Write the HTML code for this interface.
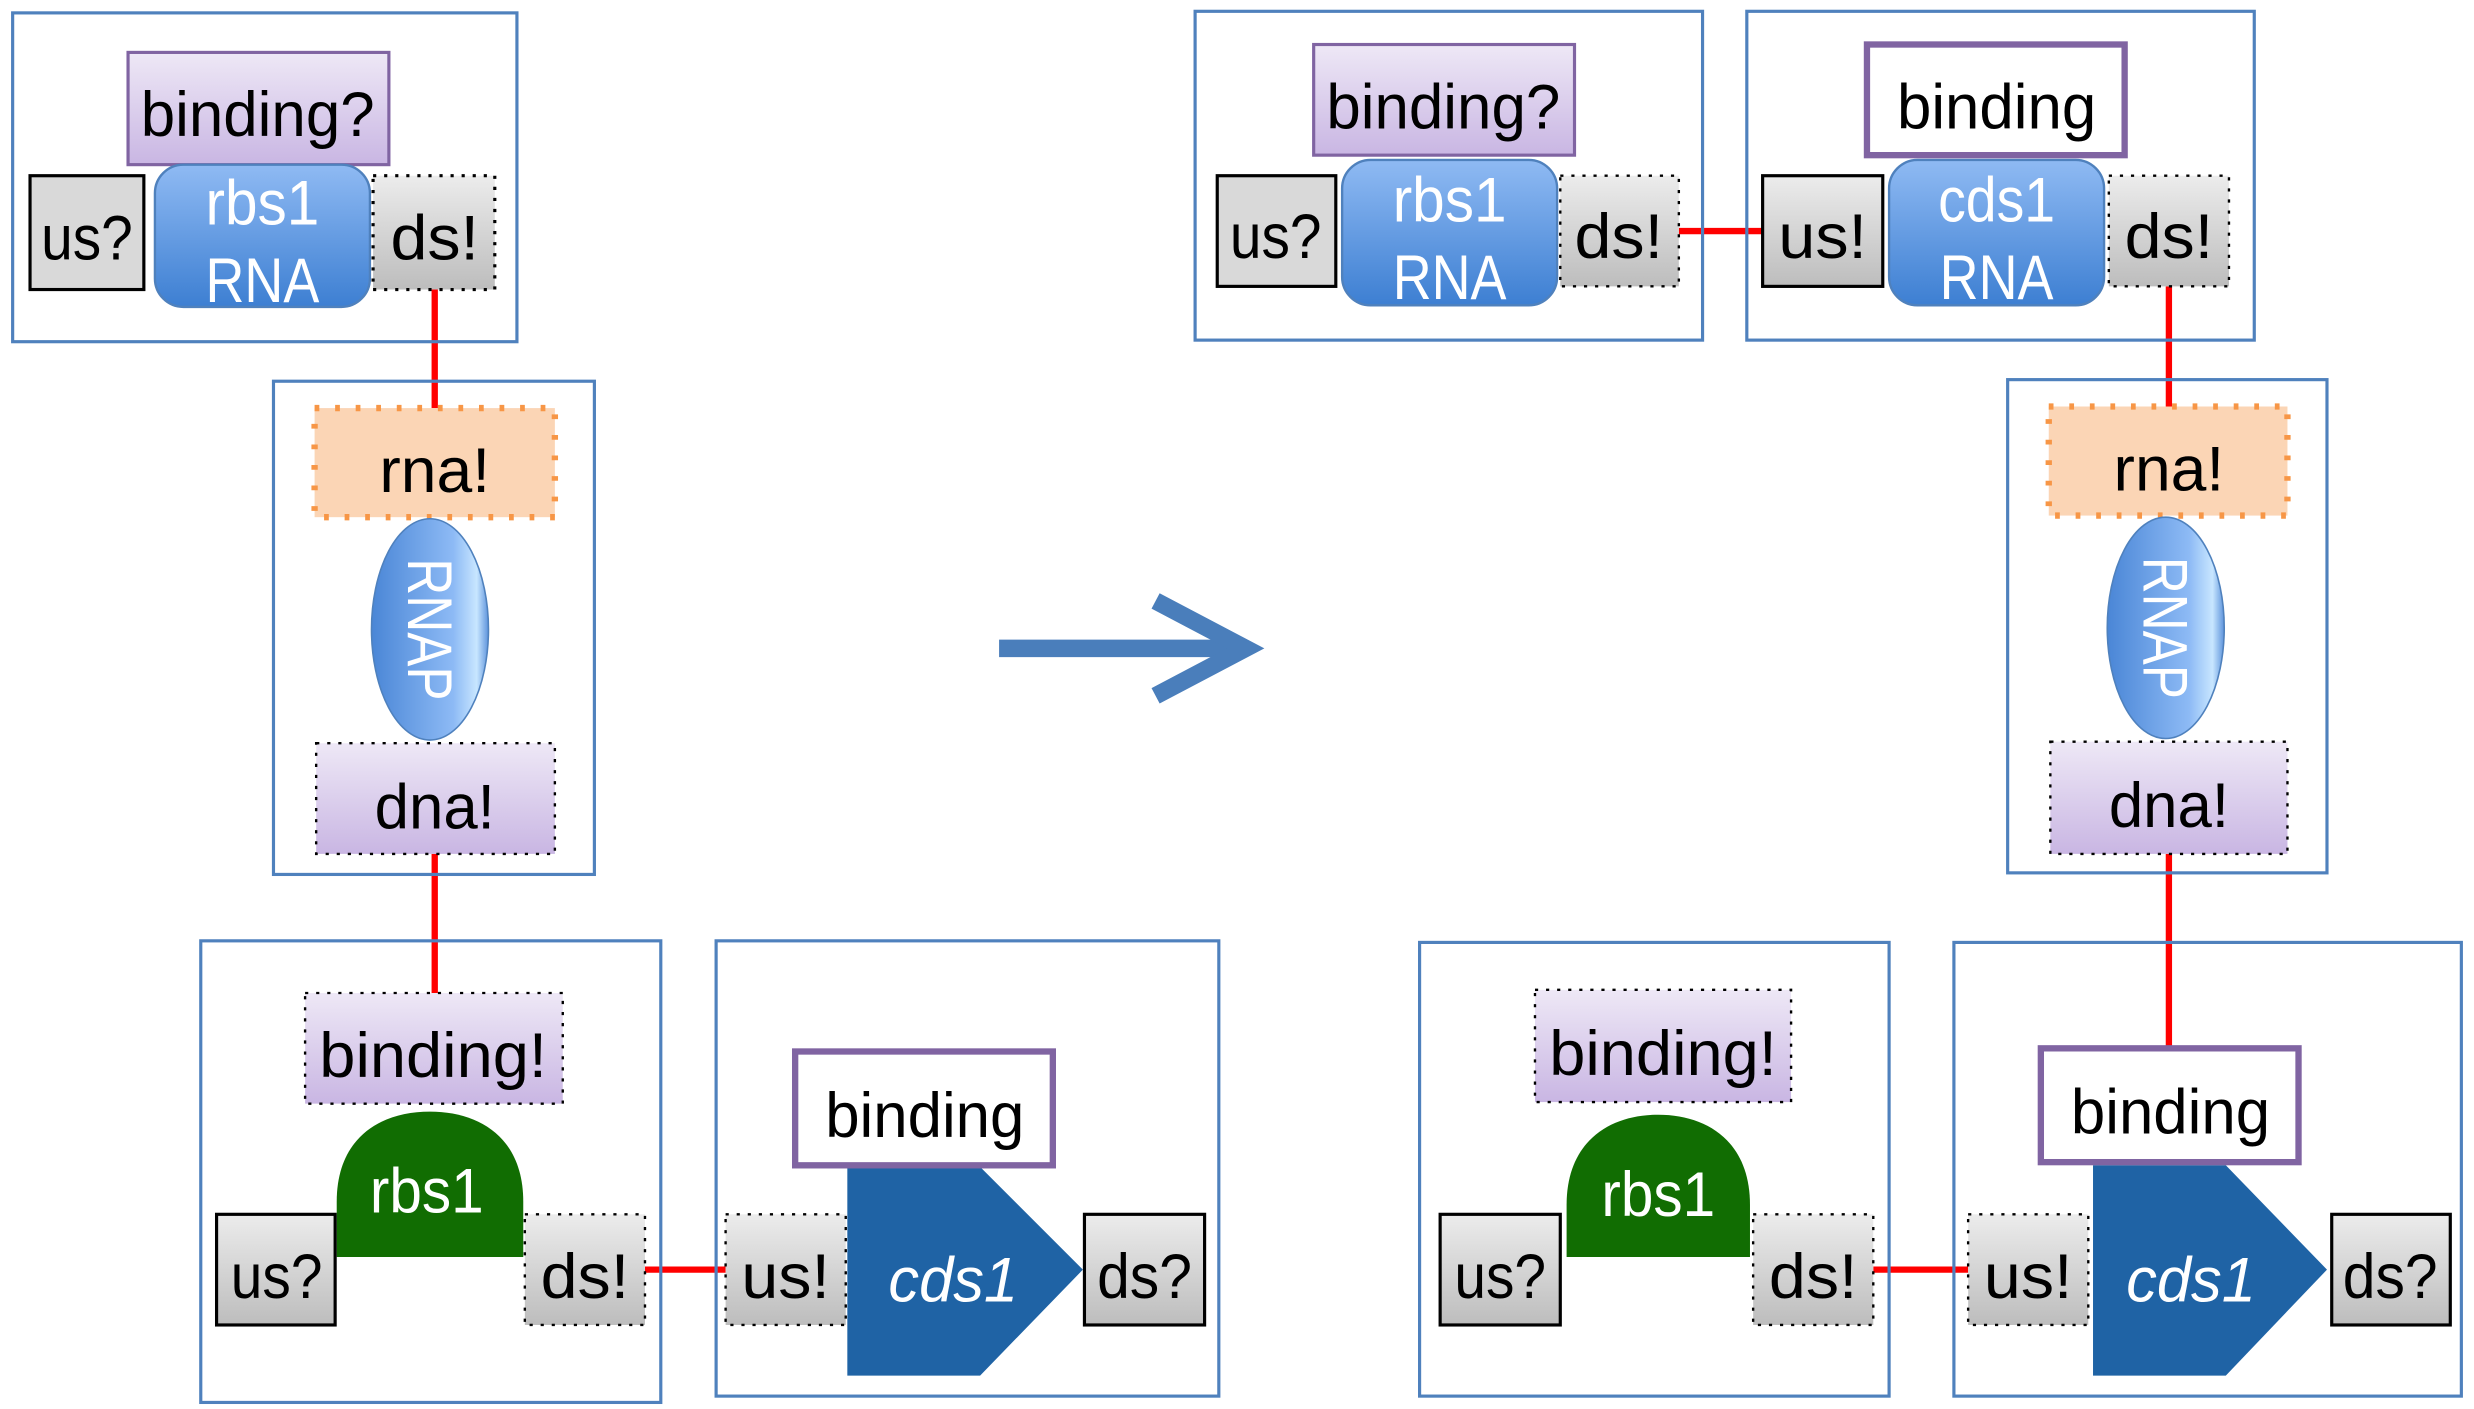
<!DOCTYPE html>
<html><head><meta charset="utf-8"><style>html,body{margin:0;padding:0;background:#fff}svg{display:block}</style></head><body>
<svg width="2474" height="1409" viewBox="0 0 1565 891" xmlns="http://www.w3.org/2000/svg" font-family="'Liberation Sans', sans-serif">
<defs>
<linearGradient id="pur" x1="0" y1="0" x2="0" y2="1"><stop offset="0" stop-color="#eee8f6"/><stop offset="1" stop-color="#c9b6e3"/></linearGradient>
<linearGradient id="gry" x1="0" y1="0" x2="0" y2="1"><stop offset="0" stop-color="#ececec"/><stop offset="1" stop-color="#bdbdbd"/></linearGradient>
<linearGradient id="blu" x1="0" y1="0" x2="0" y2="1"><stop offset="0" stop-color="#8fbaf3"/><stop offset="1" stop-color="#3d7fd2"/></linearGradient>
<linearGradient id="ell" x1="0" y1="0" x2="1" y2="0"><stop offset="0" stop-color="#4a86d6"/><stop offset="0.7" stop-color="#8dbaf5"/><stop offset="0.9" stop-color="#c8e6ff"/><stop offset="1" stop-color="#5d93dc"/></linearGradient>
</defs>
<style>
.t{font-size:40px;fill:#000;text-anchor:middle}
.w{font-size:40px;fill:#fff;text-anchor:middle}
.red{stroke:#f00;stroke-width:4}
.box{fill:none;stroke:#4f81bd;stroke-width:2}
</style>

<line class="red" x1="275" y1="183" x2="275" y2="258"/>
<line class="red" x1="275" y1="540" x2="275" y2="628"/>
<line class="red" x1="408" y1="803" x2="459" y2="803"/>
<line class="red" x1="1062" y1="146" x2="1115" y2="146"/>
<line class="red" x1="1372" y1="181" x2="1372" y2="258"/>
<line class="red" x1="1372" y1="540" x2="1372" y2="663"/>
<line class="red" x1="1185" y1="803" x2="1245" y2="803"/>

<!-- Box A -->
<rect class="box" x="8" y="8" width="319" height="208"/>
<rect x="81" y="33" width="165" height="71" fill="url(#pur)" stroke="#8064a2" stroke-width="2"/>
<text class="t" x="163" y="86" textLength="148" lengthAdjust="spacingAndGlyphs">binding?</text>
<rect x="19" y="111" width="72" height="72" fill="#d9d9d9" stroke="#000" stroke-width="2"/>
<text class="t" x="55" y="164" textLength="58" lengthAdjust="spacingAndGlyphs">us?</text>
<rect x="98" y="104" width="136" height="90" rx="18" fill="url(#blu)" stroke="#4f81bd" stroke-width="1.5"/>
<text class="w" x="166" y="142" textLength="72" lengthAdjust="spacingAndGlyphs">rbs1</text><text class="w" x="166" y="191" textLength="72" lengthAdjust="spacingAndGlyphs">RNA</text>
<rect x="236" y="111" width="77" height="72" fill="url(#gry)" stroke="#000" stroke-width="2" stroke-dasharray="2,5"/>
<text class="t" x="275" y="164" textLength="56" lengthAdjust="spacingAndGlyphs">ds!</text>

<!-- Box B -->
<rect class="box" x="173" y="241" width="203" height="312"/>
<rect x="199" y="258" width="152" height="69" fill="#fbd5b5" stroke="#f79646" stroke-width="4" stroke-dasharray="3,10"/>
<text class="t" x="275" y="311" textLength="70" lengthAdjust="spacingAndGlyphs">rna!</text>
<ellipse cx="272" cy="398" rx="37" ry="70" fill="url(#ell)" stroke="#4f81bd" stroke-width="1"/>
<text class="w" transform="translate(258,398) rotate(90)" x="0" y="0" textLength="90" lengthAdjust="spacingAndGlyphs">RNAP</text>
<rect x="200" y="470" width="151" height="70" fill="url(#pur)" stroke="#000" stroke-width="1.5" stroke-dasharray="2,5"/>
<text class="t" x="275" y="524" textLength="76" lengthAdjust="spacingAndGlyphs">dna!</text>

<!-- Box C -->
<rect class="box" x="127" y="595" width="291" height="292"/>
<rect x="193" y="628" width="163" height="70" fill="url(#pur)" stroke="#000" stroke-width="1.5" stroke-dasharray="2,5"/>
<text class="t" x="274" y="681" textLength="144" lengthAdjust="spacingAndGlyphs">binding!</text>
<path d="M213,795 L213,760 C213,720 240,703 272,703 C304,703 331,720 331,760 L331,795 Z" fill="#116d02"/>
<text class="w" x="270" y="767" textLength="72" lengthAdjust="spacingAndGlyphs">rbs1</text>
<rect x="137" y="768" width="75" height="70" fill="url(#gry)" stroke="#000" stroke-width="2"/>
<text class="t" x="175" y="821" textLength="58" lengthAdjust="spacingAndGlyphs">us?</text>
<rect x="332" y="768" width="76" height="70" fill="url(#gry)" stroke="#000" stroke-width="1.5" stroke-dasharray="2,5"/>
<text class="t" x="370" y="821" textLength="56" lengthAdjust="spacingAndGlyphs">ds!</text>

<!-- Box D -->
<rect class="box" x="453" y="595" width="318" height="288"/>
<path d="M536,738 L620,738 L685,803 L620,870 L536,870 Z" fill="#1f63a5"/>
<rect x="503" y="665" width="163" height="72" fill="#fff" stroke="#8064a2" stroke-width="4"/>
<text class="t" x="585" y="719" textLength="126" lengthAdjust="spacingAndGlyphs">binding</text>
<text class="w" x="603" y="823" font-style="italic" font-size="42" textLength="82" lengthAdjust="spacingAndGlyphs">cds1</text>
<rect x="459" y="768" width="76" height="70" fill="url(#gry)" stroke="#000" stroke-width="1.5" stroke-dasharray="2,5"/>
<text class="t" x="497" y="821" textLength="56" lengthAdjust="spacingAndGlyphs">us!</text>
<rect x="686" y="768" width="76" height="70" fill="url(#gry)" stroke="#000" stroke-width="2"/>
<text class="t" x="724" y="821" textLength="60" lengthAdjust="spacingAndGlyphs">ds?</text>

<!-- Arrow -->
<g stroke="#4a7ebb" stroke-width="11" fill="none">
<line x1="632" y1="410" x2="785" y2="410"/>
<polyline points="731,380 788,410 731,440"/>
</g>

<!-- Box E -->
<rect class="box" x="756" y="7" width="321" height="208"/>
<rect x="831" y="28" width="165" height="70" fill="url(#pur)" stroke="#8064a2" stroke-width="2"/>
<text class="t" x="913" y="81" textLength="148" lengthAdjust="spacingAndGlyphs">binding?</text>
<rect x="770" y="111" width="75" height="70" fill="#d9d9d9" stroke="#000" stroke-width="2"/>
<text class="t" x="807" y="163" textLength="58" lengthAdjust="spacingAndGlyphs">us?</text>
<rect x="849" y="101" width="136" height="92" rx="18" fill="url(#blu)" stroke="#4f81bd" stroke-width="1.5"/>
<text class="w" x="917" y="140" textLength="72" lengthAdjust="spacingAndGlyphs">rbs1</text><text class="w" x="917" y="189" textLength="72" lengthAdjust="spacingAndGlyphs">RNA</text>
<rect x="987" y="111" width="75" height="70" fill="url(#gry)" stroke="#000" stroke-width="1.5" stroke-dasharray="2,5"/>
<text class="t" x="1024" y="163" textLength="56" lengthAdjust="spacingAndGlyphs">ds!</text>

<!-- Box F -->
<rect class="box" x="1105" y="7" width="321" height="208"/>
<rect x="1181" y="28" width="163" height="70" fill="#fff" stroke="#8064a2" stroke-width="4"/>
<text class="t" x="1263" y="81" textLength="126" lengthAdjust="spacingAndGlyphs">binding</text>
<rect x="1115" y="111" width="76" height="70" fill="url(#gry)" stroke="#000" stroke-width="2"/>
<text class="t" x="1153" y="163" textLength="56" lengthAdjust="spacingAndGlyphs">us!</text>
<rect x="1195" y="101" width="136" height="92" rx="18" fill="url(#blu)" stroke="#4f81bd" stroke-width="1.5"/>
<text class="w" x="1263" y="140" textLength="74" lengthAdjust="spacingAndGlyphs">cds1</text><text class="w" x="1263" y="189" textLength="72" lengthAdjust="spacingAndGlyphs">RNA</text>
<rect x="1334" y="111" width="76" height="70" fill="url(#gry)" stroke="#000" stroke-width="1.5" stroke-dasharray="2,5"/>
<text class="t" x="1372" y="163" textLength="56" lengthAdjust="spacingAndGlyphs">ds!</text>

<!-- Box G -->
<rect class="box" x="1270" y="240" width="202" height="312"/>
<rect x="1296" y="257" width="151" height="69" fill="#fbd5b5" stroke="#f79646" stroke-width="4" stroke-dasharray="3,10"/>
<text class="t" x="1372" y="310" textLength="70" lengthAdjust="spacingAndGlyphs">rna!</text>
<ellipse cx="1370" cy="397" rx="37" ry="70" fill="url(#ell)" stroke="#4f81bd" stroke-width="1"/>
<text class="w" transform="translate(1356,397) rotate(90)" x="0" y="0" textLength="90" lengthAdjust="spacingAndGlyphs">RNAP</text>
<rect x="1297" y="469" width="150" height="71" fill="url(#pur)" stroke="#000" stroke-width="1.5" stroke-dasharray="2,5"/>
<text class="t" x="1372" y="523" textLength="76" lengthAdjust="spacingAndGlyphs">dna!</text>

<!-- Box H -->
<rect class="box" x="898" y="596" width="297" height="287"/>
<rect x="971" y="626" width="162" height="71" fill="url(#pur)" stroke="#000" stroke-width="1.5" stroke-dasharray="2,5"/>
<text class="t" x="1052" y="680" textLength="144" lengthAdjust="spacingAndGlyphs">binding!</text>
<path d="M991,795 L991,762 C991,722 1018,705 1049,705 C1080,705 1107,722 1107,762 L1107,795 Z" fill="#116d02"/>
<text class="w" x="1049" y="769" textLength="72" lengthAdjust="spacingAndGlyphs">rbs1</text>
<rect x="911" y="768" width="76" height="70" fill="url(#gry)" stroke="#000" stroke-width="2"/>
<text class="t" x="949" y="821" textLength="58" lengthAdjust="spacingAndGlyphs">us?</text>
<rect x="1109" y="768" width="76" height="70" fill="url(#gry)" stroke="#000" stroke-width="1.5" stroke-dasharray="2,5"/>
<text class="t" x="1147" y="821" textLength="56" lengthAdjust="spacingAndGlyphs">ds!</text>

<!-- Box I -->
<rect class="box" x="1236" y="596" width="321" height="287"/>
<path d="M1324,737 L1408,737 L1472,803 L1408,870 L1324,870 Z" fill="#1f63a5"/>
<rect x="1291" y="663" width="163" height="72" fill="#fff" stroke="#8064a2" stroke-width="4"/>
<text class="t" x="1373" y="717" textLength="126" lengthAdjust="spacingAndGlyphs">binding</text>
<text class="w" x="1386" y="823" font-style="italic" font-size="42" textLength="82" lengthAdjust="spacingAndGlyphs">cds1</text>
<rect x="1245" y="768" width="76" height="70" fill="url(#gry)" stroke="#000" stroke-width="1.5" stroke-dasharray="2,5"/>
<text class="t" x="1283" y="821" textLength="56" lengthAdjust="spacingAndGlyphs">us!</text>
<rect x="1475" y="768" width="75" height="70" fill="url(#gry)" stroke="#000" stroke-width="2"/>
<text class="t" x="1512" y="821" textLength="60" lengthAdjust="spacingAndGlyphs">ds?</text>
</svg>
</body></html>
